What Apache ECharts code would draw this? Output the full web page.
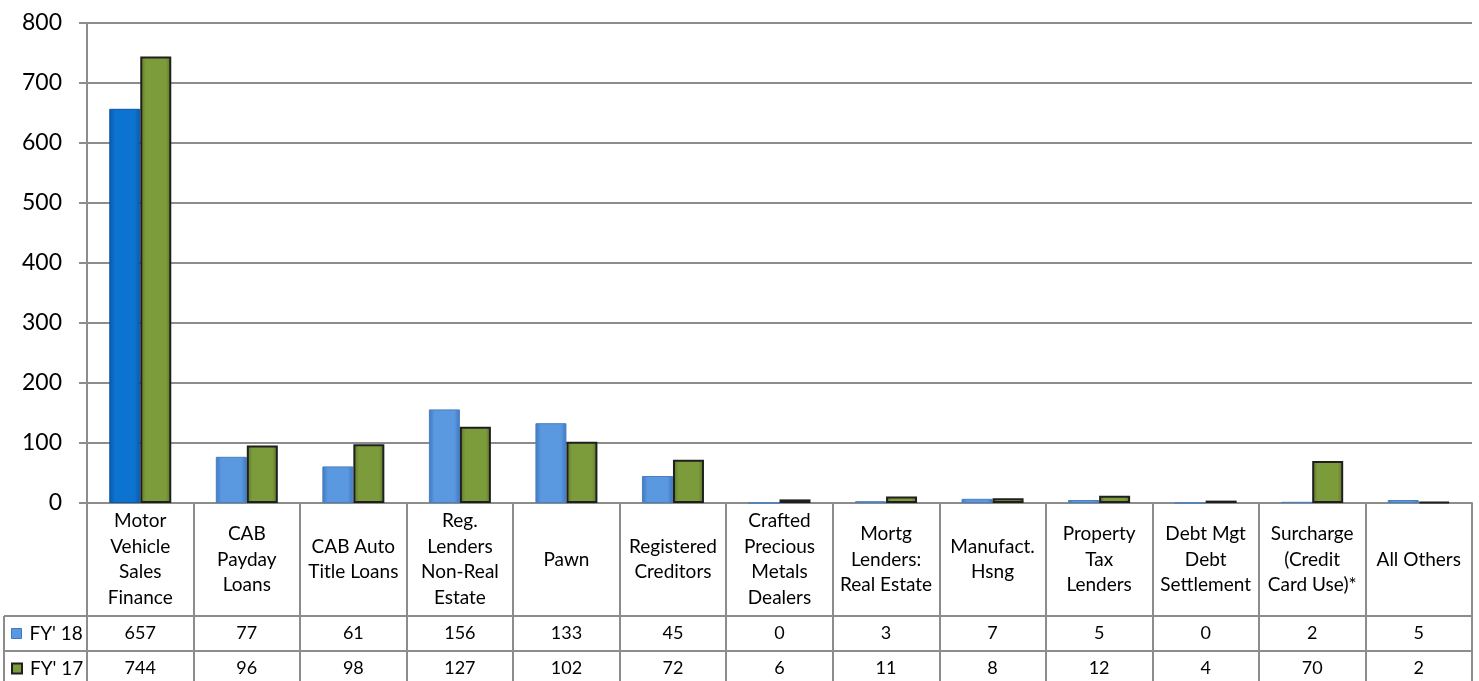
<!DOCTYPE html>
<html>
<head>
<meta charset="utf-8">
<script src="https://cdn.jsdelivr.net/npm/echarts@6/dist/echarts.min.js"></script>
<style>
  html, body { margin: 0; padding: 0; background: #ffffff; }
  #chart { width: 1479px; height: 681px; }
</style>
</head>
<body>
<div id="chart"></div>
<script>
// License categories (multi-line labels as shown in the table header row)
const categories = [
  'Motor\nVehicle\nSales\nFinance',
  'CAB\nPayday\nLoans',
  'CAB Auto\nTitle Loans',
  'Reg.\nLenders\nNon-Real\nEstate',
  'Pawn',
  'Registered\nCreditors',
  'Crafted\nPrecious\nMetals\nDealers',
  'Mortg\nLenders:\nReal Estate',
  'Manufact.\nHsng',
  'Property\nTax\nLenders',
  'Debt Mgt\nDebt\nSettlement',
  'Surcharge\n(Credit\nCard Use)*',
  'All Others'
];

const seriesNames = ["FY' 18", "FY' 17"];
const fy18 = [657, 77, 61, 156, 133, 45, 0, 3, 7, 5, 0, 2, 5];
const fy17 = [744, 96, 98, 127, 102, 72, 6, 11, 8, 12, 4, 70, 2];

// Value axis
const yMin = 0;
const yMax = 800;
const yStep = 100;

// ---- layout ----
const W = 1479, H = 681;
const PLOT_LEFT = 87;
const PLOT_RIGHT = 1472;
const PLOT_TOP = 23;
const AXIS_Y = 503;
const ROW1_Y = 616;   // top of the FY' 18 row
const ROW2_Y = 651;   // top of the FY' 17 row
const ROW_H = ROW2_Y - ROW1_Y;
const TABLE_LEFT = 4;
const GRID_COLOR = '#8c8c8c';
const FONT = 'Lato, "Open Sans", sans-serif';

function hGrad(edge, mid) {
  return new echarts.graphic.LinearGradient(0, 0, 1, 0, [
    { offset: 0, color: edge },
    { offset: 0.18, color: mid },
    { offset: 0.82, color: mid },
    { offset: 1, color: edge }
  ]);
}

const blueStyle = { color: hGrad('#3f78c2', '#5a98e0'), borderColor: '#4a7fc0', borderWidth: 1 };
const blueDeepStyle = { color: hGrad('#0a58a6', '#0d73d0'), borderColor: '#0a58a6', borderWidth: 1 };
const greenStyle = { color: hGrad('#5b7527', '#7c9c3c'), borderColor: '#1f1f1f', borderWidth: 2 };

const chart = echarts.init(document.getElementById('chart'), null, { renderer: 'canvas' });

// value row of the data table, drawn as labels of an extra category axis
const rowLabelAxis = (values, centerY) => ({
  type: 'category',
  data: categories,
  position: 'bottom',
  gridIndex: 0,
  axisLine: { show: false },
  axisTick: { show: false },
  splitLine: { show: false },
  axisLabel: {
    interval: 0,
    margin: centerY - AXIS_Y,
    verticalAlign: 'middle',
    fontFamily: FONT,
    fontSize: 18,
    color: '#000',
    formatter: (v, i) => String(values[i])
  }
});

// row header (legend key + series name) for one table row
const rowLegend = (name, rowTop, keyStyle) => ({
  orient: 'horizontal',
  left: 11,
  top: rowTop + ROW_H / 2 - 11,
  itemWidth: 10,
  itemHeight: 10,
  icon: 'rect',
  padding: 0,
  textStyle: { fontFamily: FONT, fontSize: 19, color: '#000', lineHeight: 22, padding: [0, 0, 0, 3] },
  data: [{ name: name, itemStyle: keyStyle }]
});

const option = {
  animation: false,
  backgroundColor: '#ffffff',
  textStyle: { fontFamily: FONT },
  grid: {
    left: PLOT_LEFT,
    right: W - PLOT_RIGHT,
    top: PLOT_TOP,
    bottom: H - AXIS_Y,
    containLabel: false
  },
  legend: [
    rowLegend(seriesNames[0], ROW1_Y, { color: '#5a98e0', borderColor: '#3f78c2', borderWidth: 1 }),
    rowLegend(seriesNames[1], ROW2_Y, { color: '#7c9c3c', borderColor: '#1f1f1f', borderWidth: 2 })
  ],
  xAxis: [
    {
      type: 'category',
      data: categories,
      boundaryGap: true,
      axisLine: { show: true, lineStyle: { color: GRID_COLOR, width: 2 } },
      axisTick: {
        show: true,
        alignWithLabel: false,
        length: H - AXIS_Y + 4,
        lineStyle: { color: GRID_COLOR, width: 2 }
      },
      axisLabel: {
        interval: 0,
        margin: (ROW1_Y - AXIS_Y) / 2,
        verticalAlign: 'middle',
        align: 'center',
        fontFamily: FONT,
        fontSize: 19,
        lineHeight: 25.5,
        color: '#000'
      }
    },
    rowLabelAxis(fy18, ROW1_Y + ROW_H / 2),
    rowLabelAxis(fy17, ROW2_Y + ROW_H / 2)
  ],
  yAxis: {
    type: 'value',
    min: yMin,
    max: yMax,
    interval: yStep,
    axisLine: { show: true, lineStyle: { color: GRID_COLOR, width: 2 } },
    axisTick: { show: true, inside: false, length: 8, lineStyle: { color: GRID_COLOR, width: 2 } },
    splitLine: { show: true, lineStyle: { color: GRID_COLOR, width: 2 } },
    axisLabel: { fontFamily: FONT, fontSize: 23, color: '#000', margin: 25 }
  },
  series: [
    {
      name: seriesNames[0],
      type: 'bar',
      xAxisIndex: 0,
      barWidth: 31,
      barGap: '0%',
      itemStyle: blueStyle,
      // the tallest column renders in the deeper shade
      data: fy18.map(v => (v > 500 ? { value: v, itemStyle: blueDeepStyle } : v))
    },
    {
      name: seriesNames[1],
      type: 'bar',
      xAxisIndex: 0,
      barWidth: 31,
      barGap: '0%',
      itemStyle: greenStyle,
      data: fy17
    }
  ],
  // table rules for the value rows beneath the axis
  graphic: [
    { type: 'line', silent: true, shape: { x1: TABLE_LEFT, y1: ROW1_Y, x2: PLOT_RIGHT, y2: ROW1_Y }, style: { stroke: GRID_COLOR, lineWidth: 2 } },
    { type: 'line', silent: true, shape: { x1: TABLE_LEFT, y1: ROW2_Y, x2: PLOT_RIGHT, y2: ROW2_Y }, style: { stroke: GRID_COLOR, lineWidth: 2 } },
    { type: 'line', silent: true, shape: { x1: TABLE_LEFT, y1: ROW1_Y, x2: TABLE_LEFT, y2: H + 4 }, style: { stroke: GRID_COLOR, lineWidth: 2 } }
  ]
};

chart.setOption(option);
</script>
</body>
</html>
